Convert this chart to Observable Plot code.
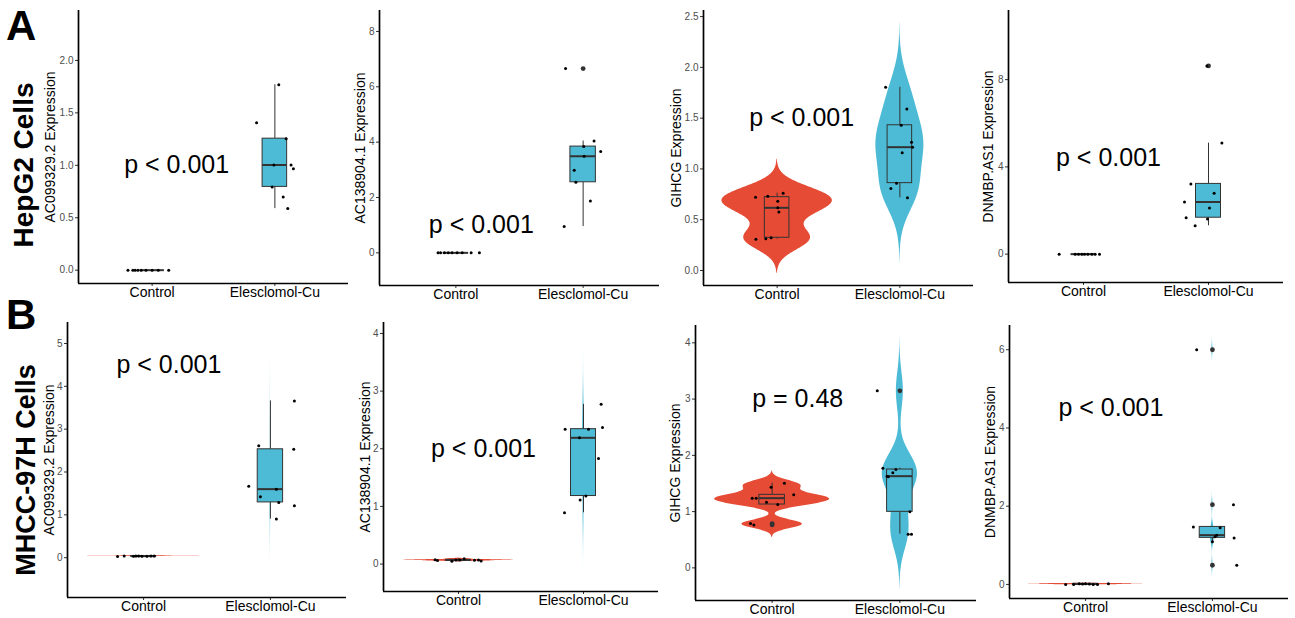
<!DOCTYPE html>
<html>
<head>
<meta charset="utf-8">
<script src="https://cdn.jsdelivr.net/npm/d3@7"></script>
<script src="https://cdn.jsdelivr.net/npm/@observablehq/plot@0.6"></script>
<style>
  body { margin: 0; background: #fff; }
  #fig { position: relative; width: 1295px; height: 618px; overflow: hidden;
         font-family: "Liberation Sans", Arial, sans-serif; }
  #fig > svg { position: absolute; }
</style>
</head>
<body>
<div id="fig"></div>
<script>
// ---------- categories and labels ----------
const groups = ["Control", "Elesclomol-Cu"];
const groupColors = ["#E64B35", "#4DBBD5"];
const cellLines = ["HepG2 Cells", "MHCC-97H Cells"];
const panelTags = ["A", "B"];
const geneTitles = ["AC099329.2 Expression", "AC138904.1 Expression", "GIHCG Expression", "DNMBP.AS1 Expression"];

// ---------- HepG2 expression (9 replicates per group) + horizontal jitter ----------
const hepAC0993Ctrl = [0, 0, 0, 0, 0, 0, 0, 0, 0];
const hepAC0993CtrlJit = [-0.197, -0.157, -0.138, -0.116, -0.089, -0.05, 0.0, 0.05, 0.135];
const hepAC0993Trt = [1.406, 1.768, 1.254, 1.003, 1.003, 0.968, 0.794, 0.698, 0.587];
const hepAC0993TrtJit = [-0.149, 0.032, 0.092, -0.008, 0.132, 0.151, -0.022, 0.068, 0.105];

const hepAC1389Ctrl = [0, 0, 0, 0, 0, 0, 0, 0, 0];
const hepAC1389CtrlJit = [-0.14, -0.12, -0.09, -0.06, -0.03, 0.01, 0.05, 0.12, 0.185];
const hepAC1389Trt = [6.66, 4.04, 3.84, 3.66, 3.49, 2.98, 2.55, 1.87, 0.95];
const hepAC1389TrtJit = [-0.138, 0.086, 0.005, 0.138, 0.008, -0.07, -0.057, 0.057, -0.149];

const hepGIHCGCtrl = [0.722, 0.732, 0.761, 0.682, 0.617, 0.577, 0.308, 0.312, 0.322];
const hepGIHCGCtrlJit = [-0.176, -0.076, 0.049, 0.005, 0.005, 0.014, -0.173, -0.092, -0.049];
const hepGIHCGTrt = [1.804, 1.591, 1.430, 1.263, 1.214, 1.158, 0.860, 0.807, 0.715];
const hepGIHCGTrtJit = [-0.116, 0.057, 0.011, 0.095, 0.103, 0.019, -0.027, -0.073, 0.062];

const hepDNMBPCtrl = [0, 0, 0, 0, 0, 0, 0, 0, 0];
const hepDNMBPCtrlJit = [-0.195, -0.067, -0.04, -0.013, 0.008, 0.035, 0.067, 0.093, 0.128];
const hepDNMBPTrt = [8.63, 5.09, 3.22, 2.79, 2.39, 2.11, 1.67, 1.61, 1.30];
const hepDNMBPTrtJit = [-0.013, 0.107, -0.141, 0.045, -0.192, 0.008, -0.179, -0.008, -0.107];

// ---------- MHCC-97H expression ----------
const mhAC0993Ctrl = [0.030, 0.040, 0.032, 0.036, 0.038, 0.035, 0.033, 0.040, 0.037];
const mhAC0993CtrlJit = [-0.205, -0.153, -0.079, -0.061, -0.039, -0.013, 0.026, 0.058, 0.084];
const mhAC0993Trt = [3.66, 2.53, 2.61, 1.67, 1.60, 1.42, 1.29, 1.21, 0.90];
const mhAC0993TrtJit = [0.189, 0.184, -0.092, -0.171, 0.047, -0.079, 0.066, 0.189, 0.047];

const mhAC1389Ctrl = [0.075, 0.060, 0.050, 0.070, 0.072, 0.090, 0.065, 0.070, 0.055];
const mhAC1389CtrlJit = [-0.187, -0.168, -0.053, -0.02, 0.01, 0.045, 0.128, 0.16, 0.181];
const mhAC1389Trt = [2.77, 2.34, 2.34, 2.37, 2.19, 1.83, 1.18, 1.11, 0.89];
const mhAC1389TrtJit = [0.141, -0.147, 0.04, 0.152, -0.032, 0.12, 0.019, -0.027, -0.152];

const mhGIHCGCtrl = [1.505, 1.434, 1.298, 1.239, 1.239, 1.167, 1.126, 0.788, 0.764];
const mhGIHCGCtrlJit = [0.096, -0.008, 0.169, -0.156, -0.125, -0.044, 0.044, -0.169, -0.143];
const mhGIHCGTrt = [3.147, 1.772, 1.748, 1.689, 1.630, 1.620, 0.996, 0.599, 0.599];
const mhGIHCGTrtJit = [-0.177, -0.133, -0.031, -0.055, -0.1, -0.09, 0.078, 0.065, 0.091];

const mhDNMBPCtrl = [0.0, 0.0, 0.01, 0.02, 0.01, 0.0, 0.015, 0.0, 0.02];
const mhDNMBPCtrlJit = [-0.157, -0.094, -0.024, 0.0, 0.03, 0.06, -0.05, 0.094, 0.18];
const mhDNMBPTrt = [6.0, 2.04, 1.47, 1.45, 1.26, 1.22, 1.09, 1.19, 0.49];
const mhDNMBPTrtJit = [-0.124, 0.166, -0.15, 0.061, 0.034, 0.02, 0.0, 0.171, 0.192];

// ---------- test results, tick values ----------
const pLabels = ["p < 0.001", "p < 0.001", "p < 0.001", "p < 0.001",
                 "p < 0.001", "p < 0.001", "p = 0.48", "p < 0.001"];
const pLabelY = [1.0, 1.0, 1.5, 4.4, 4.5, 2.0, 3.0, 4.5];
const yTicks = [[0, 0.5, 1, 1.5, 2], [0, 2, 4, 6, 8], [0, 0.5, 1, 1.5, 2, 2.5], [0, 4, 8],
                [0, 1, 2, 3, 4, 5], [0, 1, 2, 3, 4], [0, 1, 2, 3, 4], [0, 2, 4, 6]];
const yDomains = [[-0.127, 2.476], [-1.18, 8.757], [-0.148, 2.56], [-1.3, 11.17],
                  [-0.93, 5.49], [-0.476, 4.19], [-0.58, 4.308], [-0.36, 6.62]];

// ---------- page layout (frame edges of each panel, in page pixels) ----------
const layout = [
  {left: 78, right: 348, top: 10, bottom: 283, titleDx: -28},
  {left: 379, right: 659, top: 10, bottom: 285, titleDx: -19},
  {left: 703, right: 973, top: 10, bottom: 285, titleDx: -27},
  {left: 1008, right: 1283, top: 10, bottom: 282, titleDx: -20},
  {left: 67, right: 346, top: 322, bottom: 597, titleDx: -18},
  {left: 383, right: 658, top: 322, bottom: 591, titleDx: -18},
  {left: 695, right: 976, top: 325, bottom: 600, titleDx: -20},
  {left: 1009, right: 1288, top: 325, bottom: 598, titleDx: -19}
];

const panels = [
  [hepAC0993Ctrl, hepAC0993CtrlJit, hepAC0993Trt, hepAC0993TrtJit],
  [hepAC1389Ctrl, hepAC1389CtrlJit, hepAC1389Trt, hepAC1389TrtJit],
  [hepGIHCGCtrl, hepGIHCGCtrlJit, hepGIHCGTrt, hepGIHCGTrtJit],
  [hepDNMBPCtrl, hepDNMBPCtrlJit, hepDNMBPTrt, hepDNMBPTrtJit],
  [mhAC0993Ctrl, mhAC0993CtrlJit, mhAC0993Trt, mhAC0993TrtJit],
  [mhAC1389Ctrl, mhAC1389CtrlJit, mhAC1389Trt, mhAC1389TrtJit],
  [mhGIHCGCtrl, mhGIHCGCtrlJit, mhGIHCGTrt, mhGIHCGTrtJit],
  [mhDNMBPCtrl, mhDNMBPCtrlJit, mhDNMBPTrt, mhDNMBPTrtJit]
].map(([c, cj, t, tj], i) => ({
  title: geneTitles[i % 4], values: [c, t], jitter: [cj, tj],
  p: pLabels[i], pY: pLabelY[i], ticks: yTicks[i], yDomain: yDomains[i], box: layout[i]
}));

// Silverman's rule of thumb (R's bw.nrd0)
function bwNrd0(v) {
  const sd = d3.deviation(v);
  const iqr = d3.quantile(v, 0.75) - d3.quantile(v, 0.25);
  let lo = Math.min(sd, iqr / 1.34);
  if (!lo) lo = sd || Math.abs(v[0]) || 1;
  return 0.9 * lo * Math.pow(v.length, -0.2);
}

const boxHalf = 0.1;        // box half-width in category units
const violinHalf = 0.45;    // widest violin half-width
const font = "'Liberation Sans', Arial, sans-serif";

function drawPanel(cfg) {
  const b = cfg.box;
  const ml = 50, mr = 6, mt = 6, mb = 36;
  const [ymin, ymax] = cfg.yDomain;
  const marks = [];

  // violins: gaussian kernel density, extended 3 bandwidths, equal areas
  if (cfg.values.every(v => d3.deviation(v) > 0)) {
    const dens = cfg.values.map((v, g) => {
      const bw = bwNrd0(v);
      const lo = d3.min(v) - 3 * bw, hi = d3.max(v) + 3 * bw, n = 256;
      return d3.range(n).map(k => {
        const y = lo + (hi - lo) * k / (n - 1);
        const d = d3.sum(v, yi => Math.exp(-0.5 * ((y - yi) / bw) ** 2)) / (v.length * bw * Math.sqrt(2 * Math.PI));
        return {g, y, d};
      });
    });
    const maxD = d3.max(dens.flat(), e => e.d);
    dens.forEach((rows, g) => {
      marks.push(Plot.areaX(rows, {
        y: "y",
        x1: e => g + 1 - violinHalf * e.d / maxD,
        x2: e => g + 1 + violinHalf * e.d / maxD,
        fill: groupColors[g], curve: "linear"
      }));
    });
  }

  // boxplots (Tukey whiskers at 1.5 IQR)
  const stats = cfg.values.map((v, g) => {
    const q1 = d3.quantile(v, 0.25), med = d3.quantile(v, 0.5), q3 = d3.quantile(v, 0.75);
    const iqr = q3 - q1;
    const inside = v.filter(y => y >= q1 - 1.5 * iqr && y <= q3 + 1.5 * iqr);
    const out = v.filter(y => y < q1 - 1.5 * iqr || y > q3 + 1.5 * iqr);
    return {g, cx: g + 1, q1, med, q3, lo: d3.min(inside), hi: d3.max(inside), out};
  });
  marks.push(
    Plot.ruleX(stats, {x: "cx", y1: "lo", y2: "q1", stroke: "#333", strokeWidth: 1}),
    Plot.ruleX(stats, {x: "cx", y1: "q3", y2: "hi", stroke: "#333", strokeWidth: 1})
  );
  stats.forEach(s => {
    marks.push(Plot.rect([s], {
      x1: d => d.cx - boxHalf, x2: d => d.cx + boxHalf, y1: "q1", y2: "q3",
      fill: groupColors[s.g], stroke: "#333", strokeWidth: 1
    }));
  });
  marks.push(Plot.ruleY(stats, {
    y: "med", x1: d => d.cx - boxHalf, x2: d => d.cx + boxHalf, stroke: "#333", strokeWidth: 2
  }));
  const outliers = stats.flatMap(s => s.out.map(y => ({x: s.cx, y})));
  marks.push(Plot.dot(outliers, {x: "x", y: "y", r: 2.4, fill: "#333", stroke: "none"}));

  // jittered replicates
  const pts = cfg.values.flatMap((v, g) => v.map((y, i) => ({x: g + 1 + cfg.jitter[g][i], y})));
  marks.push(Plot.dot(pts, {x: "x", y: "y", r: 1.5, fill: "black", stroke: "none"}));

  // axes
  const decimals = cfg.ticks.some(t => !Number.isInteger(t));
  marks.push(
    Plot.axisY({ticks: cfg.ticks, tickFormat: decimals ? d3.format(".1f") : d3.format("d"),
                tickSize: 3, tickPadding: 2, fontSize: 10, fill: "#4d4d4d", stroke: "#333", label: null}),
    Plot.axisX({ticks: [1, 2], tickFormat: i => groups[i - 1],
                tickSize: 3, tickPadding: 1, fontSize: 14, fill: "black", stroke: "#333", label: null}),
    Plot.ruleX([0.4], {y1: ymin, y2: ymax, stroke: "black", strokeWidth: 1.7}),
    Plot.ruleY([ymin], {x1: 0.4, x2: 2.6, stroke: "black", strokeWidth: 1.7}),
    Plot.text([cfg.title], {frameAnchor: "left", textAnchor: "middle", lineAnchor: "middle",
                            rotate: -90, dx: b.titleDx, fontSize: 14, fill: "black"}),
    Plot.text([cfg.p], {x: 1.2, y: cfg.pY, fontSize: 25, fill: "black", textAnchor: "middle"})
  );

  const svg = Plot.plot({
    width: b.right - b.left + ml + mr,
    height: b.bottom - b.top + mt + mb,
    marginLeft: ml, marginRight: mr, marginTop: mt, marginBottom: mb,
    x: {domain: [0.4, 2.6]},
    y: {domain: [ymin, ymax]},
    style: {background: "transparent", fontFamily: font, overflow: "visible", maxWidth: "none"},
    marks
  });
  svg.style.left = (b.left - ml) + "px";
  svg.style.top = (b.top - mt) + "px";
  return svg;
}

const fig = document.getElementById("fig");
panels.forEach(p => fig.appendChild(drawPanel(p)));

// row tags and cell-line names
const overlay = d3.select(fig).append("svg")
  .attr("width", 1295).attr("height", 618)
  .style("left", "0px").style("top", "0px")
  .style("font-family", font).style("pointer-events", "none");
const rows = [{tagY: 40, nameX: 33, nameY: 165, nameSize: 28},
              {tagY: 329, nameX: 35, nameY: 470, nameSize: 27}];
rows.forEach((r, i) => {
  overlay.append("text").attr("x", 6).attr("y", r.tagY)
    .attr("font-size", 42).attr("font-weight", "bold").text(panelTags[i]);
  overlay.append("text")
    .attr("transform", `translate(${r.nameX},${r.nameY}) rotate(-90)`)
    .attr("text-anchor", "middle").attr("font-size", r.nameSize).attr("font-weight", "bold")
    .text(cellLines[i]);
});
</script>
</body>
</html>
